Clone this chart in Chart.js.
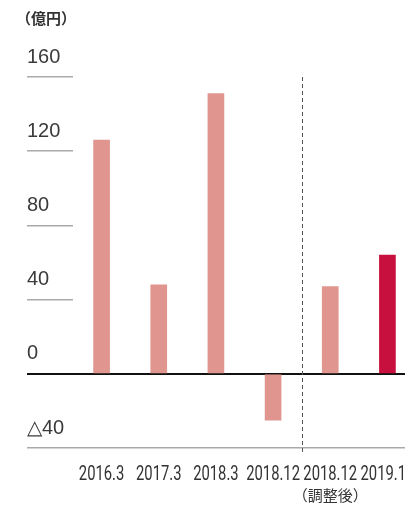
<!DOCTYPE html>
<html>
<head>
<meta charset="utf-8">
<script src="https://cdn.jsdelivr.net/npm/chart.js@4"></script>
<style>
  html, body { margin: 0; padding: 0; background: #fff; overflow: hidden; }
  #wrap { width: 416px; height: 507px; }
</style>
</head>
<body>
<div id="wrap"><canvas id="profit" width="416" height="507"></canvas></div>
<script>
// 期別の数値（億円）
var periods = ['2016.3', '2017.3', '2018.3', '2018.12', ['2018.12', '（調整後）'], '2019.12'];
var amounts = [126, 48, 151, -25, 47, 64];
var barColors = ['#e0968f', '#e0968f', '#e0968f', '#e0968f', '#e0968f', '#c8103e'];
var yMin = -40, yMax = 160, yStep = 40;
var unitLabel = '（億円）';

// 単位表示、期ラベル（長体）、2018.12 と調整後の間の破線
var extras = {
  id: 'extras',
  afterDraw: function(chart) {
    var ctx = chart.ctx, x = chart.scales.x, area = chart.chartArea;
    ctx.save();
    ctx.font = 'bold 15px "Noto Sans CJK JP"';
    ctx.fillStyle = '#333';
    ctx.textBaseline = 'middle';
    ctx.fillText(unitLabel, 16, 18);

    // 期ラベルは横 74% に詰めて描く
    ctx.textAlign = 'center';
    x.getLabels().forEach(function(lab, i) {
      var lines = Array.isArray(lab) ? lab : [lab];
      var px = x.getPixelForValue(i);
      ctx.save();
      ctx.translate(px, area.bottom + 27);
      ctx.scale(0.74, 1);
      ctx.font = '20px Roboto';
      ctx.fillText(lines[0], 0, 0);
      ctx.restore();
      if (lines[1]) {
        ctx.font = '15px "Noto Sans CJK JP"';
        ctx.fillText(lines[1], px, area.bottom + 47);
      }
    });

    var sx = Math.round((x.getPixelForValue(3) + x.getPixelForValue(4)) / 2) + 0.5;
    ctx.strokeStyle = '#555';
    ctx.lineWidth = 1;
    ctx.setLineDash([4, 3]);
    ctx.beginPath();
    ctx.moveTo(sx, area.top);
    ctx.lineTo(sx, area.bottom + 4);
    ctx.stroke();
    ctx.restore();
  }
};

new Chart(document.getElementById('profit'), {
  type: 'bar',
  data: {
    labels: periods,
    datasets: [{
      data: amounts,
      backgroundColor: barColors,
      barThickness: 16
    }]
  },
  options: {
    responsive: false,
    animation: false,
    layout: { padding: { top: 77, left: 27, right: 0, bottom: 0 } },
    plugins: { legend: { display: false }, tooltip: { enabled: false } },
    scales: {
      x: {
        offset: true,
        grid: { display: false },
        border: { display: false },
        ticks: { display: false },
        afterFit: function(s) { s.height = 59; }
      },
      y: {
        z: 1,
        min: yMin,
        max: yMax,
        border: { display: false },
        grid: {
          drawOnChartArea: true,
          tickLength: 46,
          lineWidth: function(c) { return c.tick && c.tick.value === 0 ? 2 : 1.5; },
          color: function(c) {
            if (!c.tick) return 'transparent';
            if (c.tick.value === 0) return '#111';
            if (c.tick.value === yMin) return '#aaa';
            return 'transparent';
          },
          tickColor: function(c) { return c.tick && c.tick.value === 0 ? '#111' : '#aaa'; }
        },
        ticks: {
          stepSize: yStep,
          crossAlign: 'far',
          labelOffset: -20,
          padding: 0,
          color: '#3a3a3a',
          font: { family: '"Liberation Sans", Arial, sans-serif', size: 20 },
          callback: function(v) { return v < 0 ? '△' + Math.abs(v) : String(v); }
        },
        afterFit: function(s) { s.width = 46; }
      }
    }
  },
  plugins: [extras]
});
</script>
</body>
</html>
